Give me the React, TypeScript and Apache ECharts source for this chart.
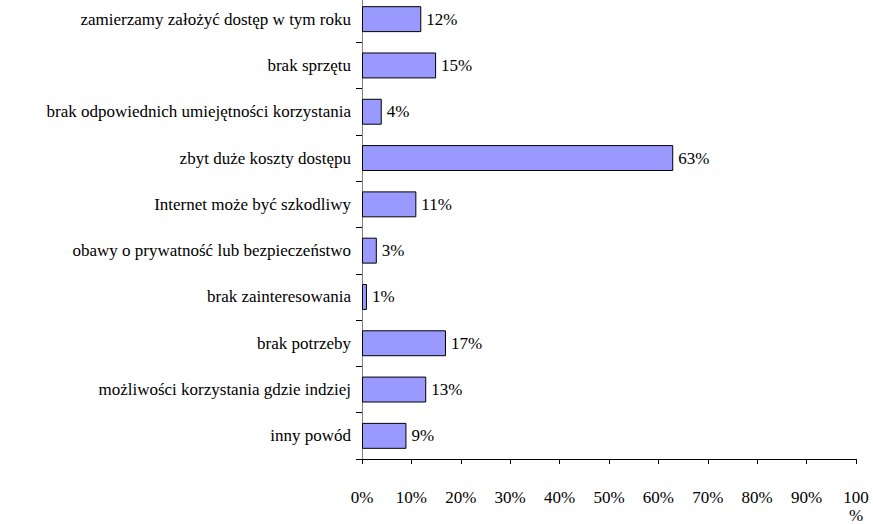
import React, { useEffect, useRef } from "react";
import * as echarts from "echarts";

const categories = [
  "zamierzamy założyć dostęp w tym roku",
  "brak sprzętu",
  "brak odpowiednich umiejętności korzystania",
  "zbyt duże koszty dostępu",
  "Internet może być szkodliwy",
  "obawy o prywatność lub bezpieczeństwo",
  "brak zainteresowania",
  "brak potrzeby",
  "możliwości korzystania gdzie indziej",
  "inny powód",
];
const values = [12, 15, 4, 63, 11, 3, 1, 17, 13, 9];
const xTicks = [0, 10, 20, 30, 40, 50, 60, 70, 80, 90, 100];

const FONT = "Times New Roman, Liberation Serif, DejaVu Serif, serif";

export default function App() {
  const ref = useRef<HTMLDivElement>(null);
  useEffect(() => {
    if (!ref.current) return;
    const chart = echarts.init(ref.current, null, { renderer: "svg" });
    chart.setOption({
      animation: false,
      backgroundColor: "#ffffff",
      textStyle: { fontFamily: FONT },
      grid: { left: 362, right: 17, top: 0, height: 467.4, containLabel: false },
      xAxis: {
        type: "value",
        min: xTicks[0],
        max: xTicks[xTicks.length - 1],
        interval: 10,
        splitLine: { show: false },
        axisLine: { show: true, lineStyle: { color: "#000", width: 1 } },
        axisTick: { show: true, length: 5, lineStyle: { color: "#000" } },
        axisLabel: {
          color: "#000",
          fontFamily: FONT,
          fontSize: 17,
          lineHeight: 18,
          margin: 29,
          formatter: (v: number) => (v === 100 ? "100\n%" : v + "%"),
        },
      },
      yAxis: {
        type: "category",
        data: categories,
        inverse: true,
        axisLine: { show: true, lineStyle: { color: "#808080", width: 1 } },
        axisTick: { show: true, length: 6, lineStyle: { color: "#000" } },
        axisLabel: {
          color: "#000",
          fontFamily: FONT,
          fontSize: 17,
          margin: 11,
        },
      },
      series: [
        {
          type: "bar",
          data: values,
          barCategoryGap: "44%",
          itemStyle: { color: "#9999ff", borderColor: "#000", borderWidth: 1 },
          label: {
            show: true,
            position: "right",
            distance: 5,
            color: "#000",
            fontFamily: FONT,
            fontSize: 17,
            formatter: (p: any) => p.value + "%",
          },
        },
      ],
    });
    return () => chart.dispose();
  }, []);
  return (
    <div
      ref={ref}
      style={{ position: "fixed", left: 0, top: -4, width: 873, height: 528 }}
    />
  );
}
